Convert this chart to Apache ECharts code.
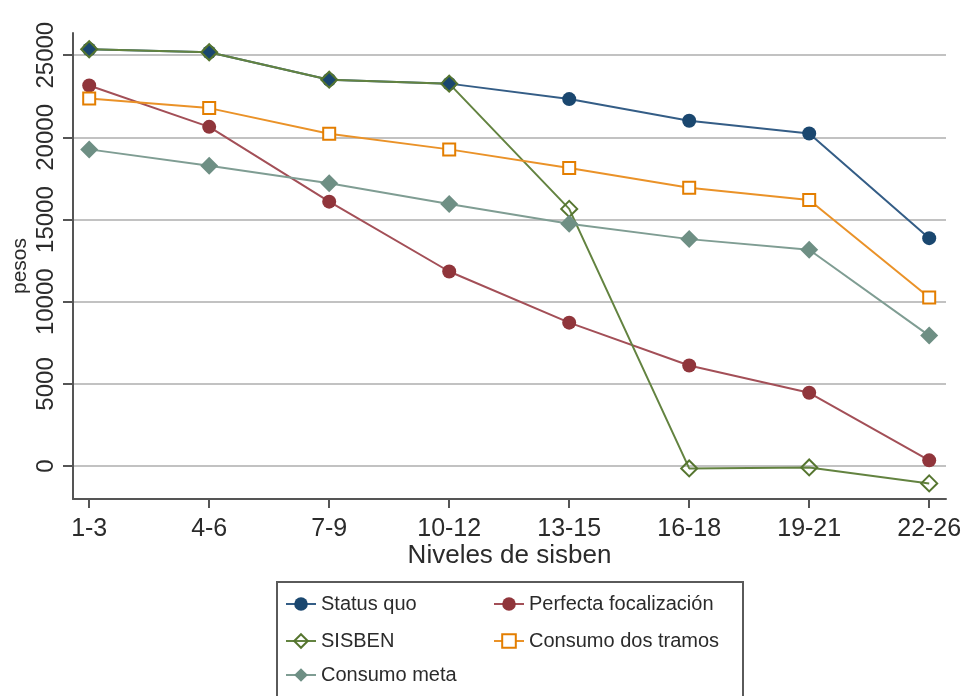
<!DOCTYPE html>
<html>
<head>
<meta charset="utf-8">
<title>Niveles de sisben</title>
<script src="https://cdn.jsdelivr.net/npm/echarts@6/dist/echarts.min.js"></script>
<style>
  html, body { margin: 0; padding: 0; background: #ffffff; }
  #chart { width: 969px; height: 696px; }
</style>
</head>
<body>
<div id="chart"></div>
<script>
// Sisben level groups along the horizontal axis
const categories = ['1-3', '4-6', '7-9', '10-12', '13-15', '16-18', '19-21', '22-26'];

// Values in pesos for each scenario
const statusQuo = [25360, 25180, 23510, 23270, 22330, 21010, 20240, 13870];
const perfectaFocalizacion = [23160, 20640, 16090, 11840, 8730, 6120, 4460, 350];
const sisben = [25360, 25180, 23510, 23270, 15650, -140, -80, -1050];
const consumoDosTramos = [22370, 21780, 20220, 19270, 18140, 16940, 16190, 10260];
const consumoMeta = [19270, 18280, 17210, 15950, 14740, 13810, 13160, 7940];

// Vertical axis tick labels
const yTicks = [0, 5000, 10000, 15000, 20000, 25000];

const FONT = 'Liberation Sans, Arial, sans-serif';
const TEXT = '#2b2b2b';
const pairs = arr => arr.map((v, i) => [i, v]);

// fill: 'solid' | 'white' | 'none'
function lineSeries(name, data, color, lineColor, symbol, size, fill) {
  let itemStyle;
  if (fill === 'solid') {
    itemStyle = { color: color, borderColor: color, borderWidth: 0 };
  } else {
    itemStyle = {
      color: fill === 'white' ? '#ffffff' : 'rgba(255,255,255,0)',
      borderColor: color, borderWidth: 2
    };
  }
  return {
    name: name,
    type: 'line',
    data: pairs(data),
    symbol: symbol,
    symbolSize: size,
    showAllSymbol: true,
    lineStyle: { color: lineColor, width: 2 },
    itemStyle: itemStyle,
    emphasis: { disabled: true },
    animation: false
  };
}

const chart = echarts.init(document.getElementById('chart'), null, { renderer: 'canvas' });

const legendText = { fontFamily: FONT, fontSize: 20, color: TEXT };
function legendItem(name, left, top) {
  return {
    data: [name],
    orient: 'vertical',
    left: left, top: top,
    padding: 0,
    itemWidth: 30, itemHeight: 17, itemGap: 0,
    textStyle: legendText,
    selectedMode: false
  };
}

chart.setOption({
  backgroundColor: '#ffffff',
  animation: false,
  grid: { left: 73, right: 23, top: 33, bottom: 197, containLabel: false, outerBoundsMode: 'none' },
  xAxis: {
    type: 'value',
    min: -0.135,
    max: 7.14,
    name: 'Niveles de sisben',
    nameLocation: 'middle',
    nameGap: 44,
    nameMoveOverlap: false,
    nameTextStyle: { fontFamily: FONT, fontSize: 26, color: TEXT },
    axisLine: { show: true, onZero: false, lineStyle: { color: '#555555', width: 2 } },
    axisTick: { show: true, length: 9, customValues: categories.map((c, i) => i), lineStyle: { color: '#555555', width: 2 } },
    axisLabel: {
      customValues: categories.map((c, i) => i),
      formatter: v => categories[Math.round(v)] || '',
      fontFamily: FONT, fontSize: 25, color: TEXT, margin: 18
    },
    splitLine: { show: false }
  },
  yAxis: {
    type: 'value',
    min: -2000,
    max: 26350,
    name: 'pesos',
    nameLocation: 'middle',
    nameGap: 42,
    nameMoveOverlap: false,
    nameRotate: 90,
    nameTextStyle: { fontFamily: FONT, fontSize: 21, color: TEXT },
    axisLine: { show: true, onZero: false, lineStyle: { color: '#555555', width: 2 } },
    axisTick: { show: true, length: 10, customValues: yTicks, lineStyle: { color: '#555555', width: 2 } },
    axisLabel: {
      customValues: yTicks,
      formatter: v => String(v),
      rotate: 90,
      fontFamily: FONT, fontSize: 24, color: TEXT, margin: 15
    },
    splitLine: { show: true, lineStyle: { color: '#c2c2c2', width: 2 } }
  },
  legend: [
    legendItem('Status quo', 285, 594),
    legendItem('SISBEN', 285, 631),
    legendItem('Consumo meta', 285, 665),
    legendItem('Perfecta focalización', 493, 594),
    legendItem('Consumo dos tramos', 493, 631)
  ],
  graphic: [
    {
      type: 'rect',
      shape: { x: 277, y: 582, width: 466, height: 130 },
      style: { fill: 'none', stroke: '#5a5a5a', lineWidth: 2 },
      silent: true,
      z: -1
    }
  ],
  series: [
    lineSeries('Status quo', statusQuo, '#1a476f', '#345d86', 'circle', 14, 'solid'),
    lineSeries('Perfecta focalización', perfectaFocalizacion, '#90353b', '#a34f57', 'circle', 14, 'solid'),
    lineSeries('SISBEN', sisben, '#55752f', '#638340', 'diamond', 16, 'none'),
    lineSeries('Consumo dos tramos', consumoDosTramos, '#e37e00', '#ea9228', 'rect', 12, 'white'),
    lineSeries('Consumo meta', consumoMeta, '#6e8f84', '#7f9d93', 'diamond', 18, 'solid')
  ]
});
</script>
</body>
</html>
